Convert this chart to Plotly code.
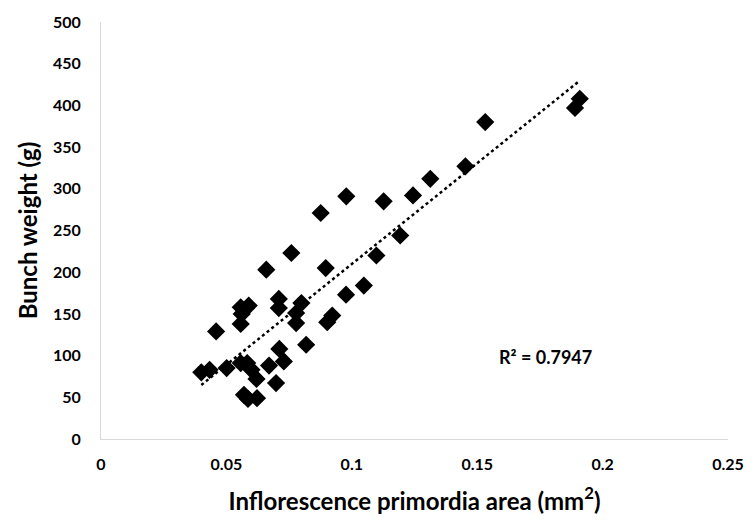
import numpy as np
import plotly.graph_objects as go

area = [0.0400, 0.0433, 0.0459, 0.0501, 0.0557, 0.0589, 0.0561, 0.0557, 0.0557, 0.0583,
        0.0600, 0.0620, 0.0570, 0.0586, 0.0622, 0.0659, 0.0670, 0.0698, 0.0709, 0.0709,
        0.0711, 0.0729, 0.0759, 0.0778, 0.0778, 0.0799, 0.0818, 0.0876, 0.0978, 0.0896,
        0.0902, 0.0922, 0.0977, 0.1048, 0.1098, 0.1127, 0.1193, 0.1244, 0.1313, 0.1453,
        0.1532, 0.1890, 0.1909]
weight = [80, 83, 129, 85, 158, 160, 150, 138, 91, 91,
          83, 72, 53, 48, 49, 203, 88, 67, 168, 157,
          108, 93, 223, 151, 139, 163, 113, 271, 291, 205,
          140, 148, 173, 184, 220, 285, 244, 292, 312, 327,
          380, 397, 408]
r2_text = "R² = 0.7947"
x_ticks = [0, 0.05, 0.1, 0.15, 0.2, 0.25]
y_ticks = [0, 50, 100, 150, 200, 250, 300, 350, 400, 450, 500]

slope, intercept = np.polyfit(area, weight, 1)
x_fit = np.array([min(area), max(area)])
y_fit = slope * x_fit + intercept

font = "Lato"
fig = go.Figure()
fig.add_trace(go.Scatter(x=x_fit, y=y_fit, mode="lines",
                         line=dict(color="black", width=2.5, dash="dot"),
                         showlegend=False, hoverinfo="skip"))
fig.add_trace(go.Scatter(x=area, y=weight, mode="markers",
                         marker=dict(symbol="diamond", size=14, color="black"),
                         showlegend=False))
fig.add_annotation(x=0.1772, y=98, xref="x", yref="y", text="<b>" + r2_text + "</b>",
                   showarrow=False, xanchor="center", yanchor="middle",
                   font=dict(family=font, size=18, color="black"))

fig.update_layout(
    width=756, height=522,
    margin=dict(l=101, r=16, t=18, b=82),
    paper_bgcolor="white", plot_bgcolor="white",
    font=dict(family=font, color="black"),
    xaxis=dict(range=[0, 0.25], tickvals=x_ticks, ticktext=[str(v) for v in x_ticks],
               showgrid=False, zeroline=False, showline=True, linecolor="#d9d9d9", linewidth=1,
               ticks="", tickfont=dict(family=font, size=16, color="black", weight="bold"),
               ticklabelstandoff=11,
               title=dict(text="Inflorescence primordia area (mm<sup>2</sup>)",
                          font=dict(family=font, size=24, color="black", weight="bold"), standoff=20)),
    yaxis=dict(range=[0, 500], tickvals=y_ticks,
               showgrid=False, zeroline=False, showline=True, linecolor="#d9d9d9", linewidth=1,
               ticks="", tickfont=dict(family=font, size=16, color="black", weight="bold"),
               ticklabelstandoff=16,
               title=dict(text="Bunch weight (g)",
                          font=dict(family=font, size=24, color="black", weight="bold"), standoff=8)),
)
fig.write_html("out.html")
